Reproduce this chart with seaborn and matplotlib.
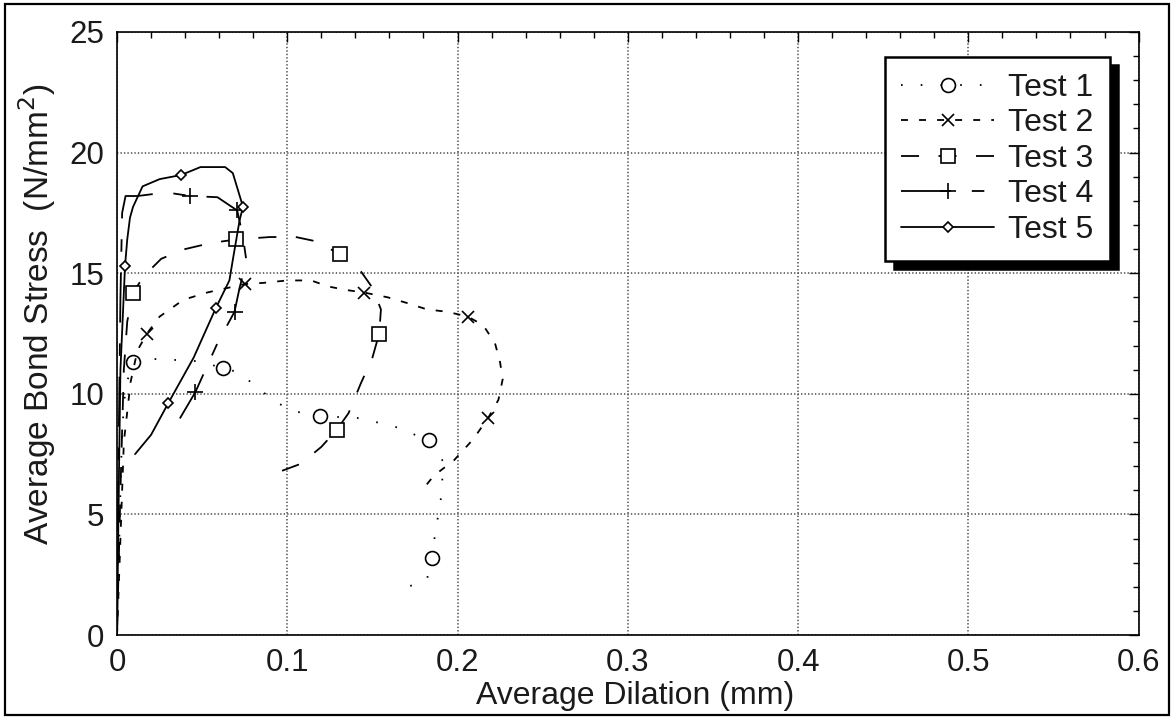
import numpy as np
import pandas as pd
import matplotlib
matplotlib.use("Agg")
import matplotlib.pyplot as plt
import seaborn as sns
from matplotlib.patches import Rectangle
from matplotlib.ticker import MultipleLocator

# ---------------- data ----------------
test1_x = [0, 0.001, 0.002, 0.003, 0.005, 0.0094, 0.02, 0.035, 0.048, 0.062, 0.071, 0.082,
           0.093, 0.106, 0.119, 0.129, 0.141, 0.152, 0.165, 0.175, 0.183, 0.1915, 0.191,
           0.19, 0.188, 0.186, 0.185, 0.182, 0.171]
test1_y = [0, 3, 6, 8.5, 10.3, 11.3, 11.45, 11.4, 11.35, 11.07, 10.9, 10.3,
           9.65, 9.25, 9.08, 9.04, 9.0, 8.83, 8.6, 8.3, 8.08, 7.2, 6.4,
           5.5, 4.7, 3.8, 3.2, 2.3, 2.0]
test1_marks = [5, 9, 14, 20, 26]

test2_x = [0, 0.002, 0.004, 0.008, 0.012, 0.0176, 0.025, 0.039, 0.053, 0.075, 0.086, 0.1,
           0.114, 0.124, 0.135, 0.145, 0.159, 0.171, 0.182, 0.194, 0.206, 0.215, 0.222,
           0.225, 0.2265, 0.224, 0.218, 0.209, 0.198, 0.186, 0.178]
test2_y = [0, 4, 8, 10.5, 11.8, 12.5, 13.2, 13.9, 14.2, 14.55, 14.6, 14.7,
           14.7, 14.45, 14.3, 14.2, 14.0, 13.75, 13.5, 13.4, 13.2, 12.85, 12.1,
           11.3, 10.6, 9.75, 9.0, 8.1, 7.25, 6.6, 5.9]
test2_marks = [5, 9, 15, 20, 26]

test3_x = [0, 0.002, 0.004, 0.006, 0.0094, 0.016, 0.026, 0.04, 0.055, 0.070, 0.09, 0.105,
           0.115, 0.131, 0.142, 0.150, 0.155, 0.154, 0.150, 0.143, 0.136, 0.129, 0.12,
           0.108, 0.087]
test3_y = [0, 6, 11, 13, 14.2, 14.9, 15.6, 16.0, 16.25, 16.4, 16.5, 16.5,
           16.35, 15.8, 15.2, 14.4, 13.5, 12.5, 11.5, 10.4, 9.2, 8.5, 7.8,
           7.1, 6.55]
test3_marks = [4, 9, 13, 17, 21]

test4_x = [0, 0.001, 0.002, 0.003, 0.005, 0.012, 0.029, 0.043, 0.059, 0.0706, 0.074, 0.076,
           0.072, 0.069, 0.059, 0.046, 0.035]
test4_y = [0, 8, 14, 17.5, 18.2, 18.2, 18.35, 18.2, 18.15, 17.6, 16.5, 15.5,
           14.4, 13.4, 12.1, 10.07, 8.75]
test4_marks = [7, 9, 13, 15]

test5_x = [0, 0.001, 0.002, 0.0047, 0.006, 0.0076, 0.0094, 0.015, 0.025, 0.0376, 0.049,
           0.0635, 0.068, 0.071, 0.074, 0.072, 0.068, 0.066, 0.058, 0.045, 0.030, 0.02, 0.0106]
test5_y = [0, 6, 11, 15.3, 16.4, 17.3, 17.75, 18.6, 18.9, 19.07, 19.4,
           19.4, 19.15, 18.45, 17.75, 17.2, 15.55, 14.7, 13.55, 11.5, 9.6, 8.3, 7.5]
test5_marks = [3, 9, 14, 18, 20]

labels = ["Test 1", "Test 2", "Test 3", "Test 4", "Test 5"]
x_ticks = [0, 0.1, 0.2, 0.3, 0.4, 0.5, 0.6]
x_tick_labels = ["0", "0.1", "0.2", "0.3", "0.4", "0.5", "0.6"]
y_ticks = [0, 5, 10, 15, 20, 25]
y_tick_labels = ["0", "5", "10", "15", "20", "25"]

# ---------------- style ----------------
sns.set_style("white")
plt.rcParams["font.family"] = ["Liberation Sans", "DejaVu Sans"]
plt.rcParams["lines.scale_dashes"] = False

fig = plt.figure(figsize=(11.75, 7.19), dpi=100)
ax = fig.add_axes([0.0996, 0.1168, 0.8694, 0.8387])

series = [
    (test1_x, test1_y, test1_marks, dict(marker="o", markersize=10, linestyle=(0, (1.2, 13)))),
    (test2_x, test2_y, test2_marks, dict(marker="x", markersize=8.5, linestyle=(0, (5, 8)))),
    (test3_x, test3_y, test3_marks, dict(marker="s", markersize=9.5, linestyle=(0, (13, 14)))),
    (test4_x, test4_y, test4_marks, dict(marker="+", markersize=11, linestyle=(0, (36, 15, 9, 15)))),
    (test5_x, test5_y, test5_marks, dict(marker="D", markersize=5.5, linestyle="-")),
]

for (xs, ys, marks, st), lab in zip(series, labels):
    df = pd.DataFrame({"x": xs, "y": ys})
    sns.lineplot(data=df, x="x", y="y", sort=False, estimator=None, ax=ax,
                 color="black", linewidth=1.3, label=lab,
                 markevery=marks, markerfacecolor="white", markeredgecolor="black",
                 markeredgewidth=1.2, **st)

ax.set_xlim(0, 0.6)
ax.set_ylim(0, 25)
ax.set_xticks(x_ticks)
ax.set_xticklabels(x_tick_labels)
ax.set_yticks(y_ticks)
ax.set_yticklabels(y_tick_labels)
ax.xaxis.set_minor_locator(MultipleLocator(0.02))
ax.yaxis.set_minor_locator(MultipleLocator(1))
ax.tick_params(which="both", direction="in", top=True, right=True, color="black",
               width=1.0, labelsize=22.5, labelcolor="#1a1a1a")
ax.tick_params(which="major", length=7, pad=9)
ax.tick_params(which="minor", length=4.5)
for s in ax.spines.values():
    s.set_color("black")
    s.set_linewidth(1.2)

ax.grid(True, which="major", linestyle=(0, (1, 1.5)), color="0.35", linewidth=1.2)

ax.set_xlabel("Average Dilation (mm)", fontsize=23, color="#1a1a1a")
ax.set_ylabel("Average Bond Stress  (N/mm$^2$)", fontsize=24, color="#1a1a1a")
ax.xaxis.set_label_coords(0.507, -0.077)
ax.yaxis.set_label_coords(-0.058, 0.532)

leg = ax.legend(loc="upper right", bbox_to_anchor=(0.9716, 0.9585), borderaxespad=0,
                fontsize=23, frameon=True, fancybox=False, handlelength=2.9,
                handletextpad=0.45, labelspacing=0.17, borderpad=0.5,
                shadow={"ox": 6, "oy": -6, "facecolor": "black", "edgecolor": "black", "alpha": 1})
leg.get_frame().set_edgecolor("black")
leg.get_frame().set_linewidth(1.8)
leg.get_frame().set_alpha(1)
for t in leg.get_texts():
    t.set_color("#1a1a1a")

fig.add_artist(Rectangle((0.004, 0.006), 0.991, 0.988, transform=fig.transFigure,
                         fill=False, edgecolor="black", linewidth=1.6))

fig.savefig("out.png", dpi=100, facecolor="white")
